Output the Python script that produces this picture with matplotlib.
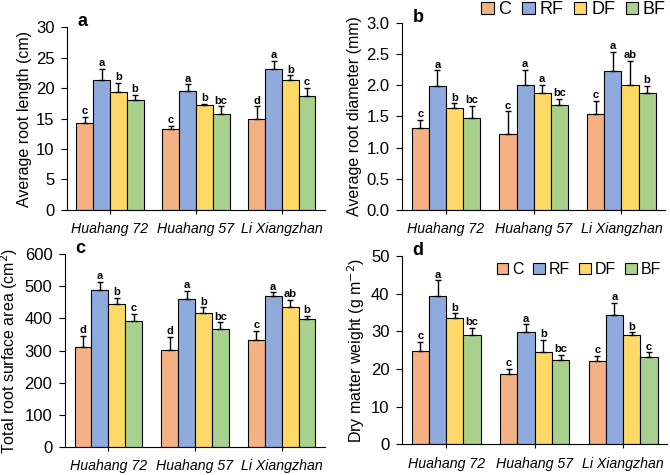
import matplotlib.pyplot as plt
import numpy as np

plt.rcParams['font.family'] = ['Liberation Sans', 'DejaVu Sans']

cultivars = ['Huahang 72', 'Huahang 57', 'Li Xiangzhan']
treatments = ['C', 'RF', 'DF', 'BF']
colors = ['#F4B183', '#8FAADC', '#FFD966', '#A9D18E']

# rows = treatment (C, RF, DF, BF), cols = cultivar
root_len = [[14.2, 13.3, 15.0], [21.3, 19.5, 23.1], [19.4, 17.2, 21.3], [18.0, 15.7, 18.7]]
root_len_err = [[1.1, 0.5, 2.0], [1.8, 1.1, 1.4], [1.5, 0.2, 0.8], [0.9, 1.3, 1.3]]
root_len_sig = [['c', 'c', 'd'], ['a', 'a', 'a'], ['b', 'b', 'b'], ['b', 'bc', 'c']]

root_dia = [[1.32, 1.21, 1.54], [1.98, 2.01, 2.22], [1.64, 1.87, 2.01], [1.47, 1.69, 1.88]]
root_dia_err = [[0.12, 0.37, 0.21], [0.26, 0.24, 0.31], [0.07, 0.14, 0.38], [0.20, 0.09, 0.11]]
root_dia_sig = [['c', 'c', 'c'], ['a', 'a', 'a'], ['b', 'a', 'ab'], ['bc', 'bc', 'b']]

surf = [[312, 302, 333], [487, 460, 470], [446, 416, 436], [391, 368, 397]]
surf_err = [[33, 41, 29], [27, 26, 11], [18, 18, 22], [23, 20, 11]]
surf_sig = [['d', 'd', 'c'], ['a', 'a', 'a'], ['b', 'b', 'ab'], ['c', 'bc', 'b']]

dm = [[24.8, 18.7, 22.0], [39.4, 29.8, 34.3], [33.6, 24.6, 28.9], [29.0, 22.4, 23.2]]
dm_err = [[2.3, 1.3, 1.4], [4.1, 2.0, 3.2], [1.2, 3.2, 0.8], [2.0, 1.4, 1.2]]
dm_sig = [['c', 'c', 'c'], ['a', 'a', 'a'], ['b', 'b', 'b'], ['bc', 'bc', 'c']]

fig = plt.figure(figsize=(6.7, 4.75), dpi=100)


def panel(rect, vals, errs, sigs, ylim, yticks, ylabel, tag, fmt='%g'):
    ax = fig.add_axes(rect)
    x = np.arange(len(cultivars))
    w = 0.195
    for i, t in enumerate(treatments):
        pos = x + (i - 1.5) * w
        ax.bar(pos, vals[i], w, color=colors[i], edgecolor='black', linewidth=0.8,
               label=t, zorder=2)
        ax.errorbar(pos, vals[i], yerr=[np.zeros(3), errs[i]], fmt='none',
                    ecolor='black', elinewidth=1, capsize=2.5, capthick=1, zorder=3)
        for j in range(3):
            ax.annotate(sigs[i][j], (pos[j], vals[i][j] + errs[i][j]),
                        xytext=(0, 0.5), textcoords='offset points',
                        ha='center', va='bottom', fontsize=8, fontweight='bold')
    ax.set_xlim(-0.5, 2.5)
    ax.set_ylim(*ylim)
    ax.set_yticks(yticks)
    ax.set_yticklabels([fmt % v for v in yticks], fontsize=12)
    ax.set_xticks(x)
    ax.set_xticklabels(cultivars, fontsize=10.2, style='italic')
    ax.tick_params(axis='y', direction='out', length=4, width=0.8, pad=5)
    ax.tick_params(axis='x', direction='out', length=3, width=0.8, pad=6)
    ax.spines['top'].set_visible(False)
    ax.spines['right'].set_visible(False)
    ax.set_ylabel(ylabel, fontsize=11.5, labelpad=3)
    ax.text(0.04, 1.03, tag, transform=ax.transAxes, fontsize=13, fontweight='bold',
            va='center', ha='left')
    return ax


ax_a = panel([0.100, 0.558, 0.385, 0.385], root_len, root_len_err, root_len_sig,
             (0, 30), np.arange(0, 31, 5), 'Average root length (cm)', 'a')
ax_b = panel([0.600, 0.558, 0.393, 0.394], root_dia, root_dia_err, root_dia_sig,
             (0, 3.0), np.arange(0, 3.01, 0.5), 'Average root diameter (mm)', 'b', '%.1f')
ax_c = panel([0.097, 0.059, 0.388, 0.406], surf, surf_err, surf_sig,
             (0, 600), np.arange(0, 601, 100), 'Total root surface area (cm$^2$)', 'c')
ax_d = panel([0.600, 0.065, 0.396, 0.396], dm, dm_err, dm_sig,
             (0, 50), np.arange(0, 51, 10), 'Dry matter weight (g m$^{-2}$)', 'd')

ax_b.legend(loc='lower right', bbox_to_anchor=(1.03, 0.985), ncol=4, frameon=False,
            fontsize=13, handlelength=0.7, handleheight=0.7, handletextpad=0.25,
            columnspacing=0.6, borderaxespad=0)
ax_d.legend(loc='upper right', bbox_to_anchor=(1.0, 1.0), ncol=4, frameon=False,
            fontsize=11.5, handlelength=0.7, handleheight=0.7, handletextpad=0.25,
            columnspacing=0.6, borderaxespad=0)

fig.savefig('out.png', dpi=100)
